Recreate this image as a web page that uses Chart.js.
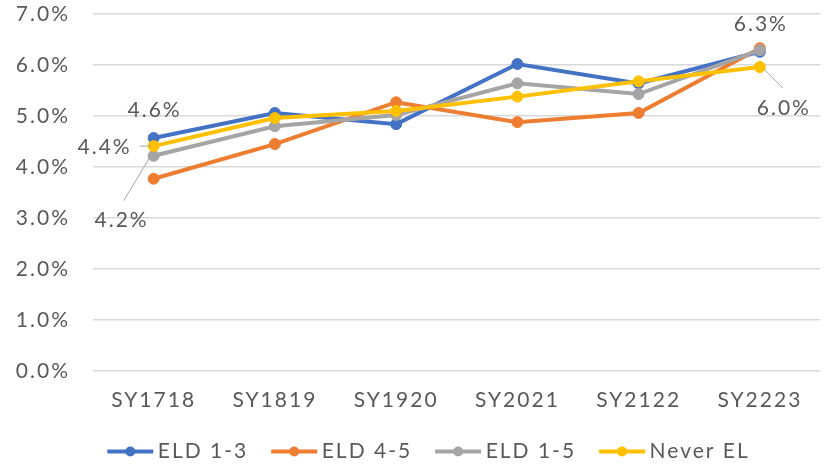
<!DOCTYPE html>
<html>
<head>
<meta charset="utf-8">
<script src="https://cdn.jsdelivr.net/npm/chart.js@4.4.1/dist/chart.umd.min.js"></script>
<style>
  html, body { margin: 0; padding: 0; background: #fff; }
  #wrap { width: 827px; height: 465px; position: relative; }
</style>
</head>
<body>
<div id="wrap"><canvas id="rateChart"></canvas></div>
<script>
// school years on the x axis
var years = ['SY1718', 'SY1819', 'SY1920', 'SY2021', 'SY2122', 'SY2223'];

// values in percent
var eld13 = [4.57, 5.06, 4.84, 6.02, 5.64, 6.26];
var eld45 = [3.77, 4.45, 5.27, 4.88, 5.06, 6.33];
var eld15 = [4.22, 4.80, 5.02, 5.64, 5.43, 6.29];
var neverEL = [4.41, 4.96, 5.10, 5.38, 5.68, 5.96];

var seriesNames = ['ELD 1-3', 'ELD 4-5', 'ELD 1-5', 'Never EL'];
var colors = ['#4472C4', '#ED7D31', '#A5A5A5', '#FFC000'];

var textColor = '#595959';
var fontFamily = 'Lato, "Open Sans", sans-serif';
var spacing = '2px';

// which points get a value label: [dataset, index, dx, dy, leader line or null]
var pointLabels = [
    [0, 0, 1, -28, null],
    [3, 0, -49, 1, [-14, 0, -3, 0]],
    [2, 0, -32, 64, [-30, 45, -4, 2]],
    [1, 5, 1, -24, null],
    [3, 5, 24, 41, [4, 2, 23, 21]]
];

function makeSet(i, values) {
    return {
        label: seriesNames[i],
        data: values,
        borderColor: colors[i],
        backgroundColor: colors[i],
        borderWidth: 4,
        pointRadius: 5.5,
        pointBorderWidth: 1,
        pointBackgroundColor: colors[i],
        pointBorderColor: colors[i],
        tension: 0,
        order: 3 - i // yellow drawn on top
    };
}

// letter spacing has to be set again whenever the canvas is reset
var spacingPlugin = {
    id: 'spacing',
    beforeLayout: function(chart) { chart.ctx.letterSpacing = spacing; },
    afterLayout: function(chart) {
        // nudge the legend a little to the right like the original
        chart.legend.left += 16;
        chart.legend.right += 16;
    },
    beforeDraw: function(chart) { chart.ctx.letterSpacing = spacing; }
};

var legendMarks = {
    id: 'legendMarks',
    afterDraw: function(chart) {
        var lg = chart.legend;
        var ctx = chart.ctx;
        ctx.save();
        lg.legendItems.forEach(function(item, n) {
            var box = lg.legendHitBoxes[n];
            var cy = box.top + box.height / 2;
            var c = colors[item.datasetIndex];
            ctx.strokeStyle = c;
            ctx.lineWidth = 4;
            ctx.beginPath();
            ctx.moveTo(box.left, cy);
            ctx.lineTo(box.left + 46, cy);
            ctx.stroke();
            ctx.fillStyle = c;
            ctx.beginPath();
            ctx.arc(box.left + 23, cy, 5, 0, Math.PI * 2);
            ctx.fill();
        });
        ctx.restore();
    }
};

var valueLabels = {
    id: 'valueLabels',
    afterDatasetsDraw: function(chart) {
        var ctx = chart.ctx;
        ctx.save();
        ctx.letterSpacing = spacing;
        ctx.font = '21px ' + fontFamily;
        ctx.fillStyle = textColor;
        ctx.textAlign = 'center';
        ctx.textBaseline = 'middle';
        pointLabels.forEach(function(p) {
            var pt = chart.getDatasetMeta(p[0]).data[p[1]];
            var v = chart.data.datasets[p[0]].data[p[1]];
            if (p[4]) {
                var l = p[4];
                ctx.strokeStyle = '#A6A6A6';
                ctx.lineWidth = 1;
                ctx.beginPath();
                ctx.moveTo(pt.x + l[0], pt.y + l[1]);
                ctx.lineTo(pt.x + l[2], pt.y + l[3]);
                ctx.stroke();
            }
            ctx.fillText(v.toFixed(1) + '%', pt.x + p[2], pt.y + p[3]);
        });
        ctx.restore();
    }
};

var chart = new Chart('rateChart', {
    type: 'line',
    data: {
        labels: years,
        datasets: [makeSet(0, eld13), makeSet(1, eld45), makeSet(2, eld15), makeSet(3, neverEL)]
    },
    options: {
        responsive: true,
        maintainAspectRatio: false,
        animation: false,
        layout: { padding: { top: 14, right: 2, left: 0, bottom: -7 } },
        font: { family: fontFamily },
        scales: {
            x: {
                offset: true,
                grid: { display: false, drawTicks: false },
                border: { display: false },
                ticks: { color: textColor, font: { size: 21, family: fontFamily }, padding: 17, maxRotation: 0 },
                afterFit: function(s) { s.height = 47; }
            },
            y: {
                min: 0,
                max: 7,
                grid: { color: '#D9D9D9', lineWidth: 1.5, drawTicks: false, tickLength: 0 },
                border: { display: false },
                ticks: {
                    stepSize: 1,
                    color: textColor,
                    font: { size: 21, family: fontFamily },
                    padding: 23,
                    callback: function(v) { return v.toFixed(1) + '%'; }
                },
                afterFit: function(s) {
                    s.width = 93;
                    s.paddingTop = 0;
                    s.paddingBottom = 0;
                }
            }
        },
        plugins: {
            tooltip: { enabled: false },
            legend: {
                position: 'bottom',
                labels: {
                    color: textColor,
                    font: { size: 21, family: fontFamily },
                    boxWidth: 40,
                    boxHeight: 4,
                    padding: 23,
                    sort: function(a, b) { return a.datasetIndex - b.datasetIndex; },
                    generateLabels: function(ch) {
                        return Chart.defaults.plugins.legend.labels.generateLabels(ch).map(function(l) {
                            l.fillStyle = 'rgba(0,0,0,0)';
                            l.strokeStyle = 'rgba(0,0,0,0)';
                            l.lineWidth = 0;
                            return l;
                        });
                    }
                }
            }
        }
    },
    plugins: [spacingPlugin, legendMarks, valueLabels]
});
</script>
</body>
</html>
